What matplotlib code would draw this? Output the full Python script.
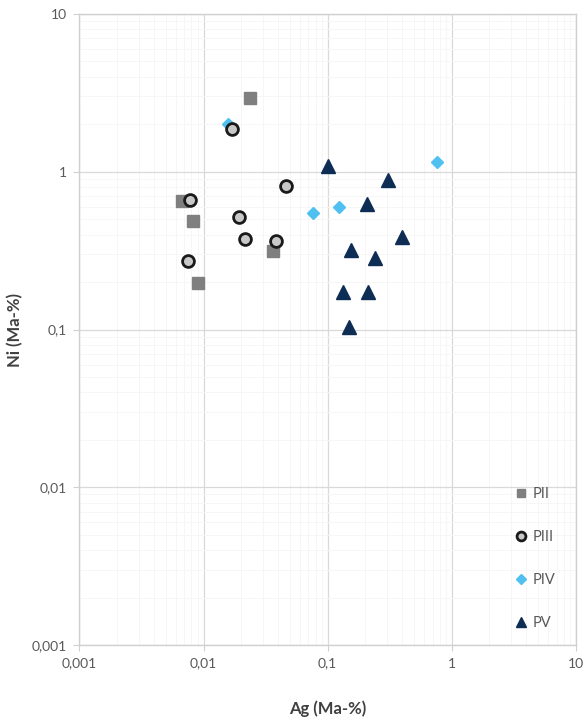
import matplotlib.pyplot as plt
from matplotlib.ticker import LogLocator, FixedLocator, NullFormatter

# Ag / Ni contents (Ma-%) per phase
pii_ag = [0.0235, 0.0067, 0.0082, 0.0365, 0.0091]
pii_ni = [2.95, 0.65, 0.49, 0.313, 0.198]

piii_ag = [0.0169, 0.0458, 0.0078, 0.0194, 0.0215, 0.0383, 0.0075]
piii_ni = [1.86, 0.815, 0.66, 0.514, 0.373, 0.366, 0.272]

piv_ag = [0.0157, 0.0757, 0.124, 0.767]
piv_ni = [2.02, 0.545, 0.594, 1.15]

pv_ag = [0.1005, 0.306, 0.206, 0.397, 0.153, 0.239, 0.134, 0.213, 0.150]
pv_ni = [1.09, 0.89, 0.625, 0.388, 0.321, 0.284, 0.174, 0.174, 0.1035]

ticks = [0.001, 0.01, 0.1, 1, 10]
tick_labels = ['0,001', '0,01', '0,1', '1', '10']

plt.rcParams['font.family'] = ['Lato', 'DejaVu Sans']

fig = plt.figure(figsize=(5.84, 7.22), dpi=100)
ax = fig.add_axes([0.136, 0.1066, 0.850, 0.874])

ax.plot(pii_ag, pii_ni, 's', color='#7f7f7f', ms=8.5, mec='#7f7f7f',
        label='PII', zorder=3)
ax.plot(piv_ag, piv_ni, 'D', color='#4fc0ef', ms=6.5, mec='#4fc0ef',
        label='PIV', zorder=4)
ax.plot(piii_ag, piii_ni, 'o', mfc='#c8c8c8', mec='#1a1a1a', mew=2.0, ms=8.5,
        label='PIII', zorder=5)
ax.plot(pv_ag, pv_ni, '^', color='#0e2d55', ms=9.5, mec='#0e2d55',
        label='PV', zorder=6)

ax.set_xscale('log')
ax.set_yscale('log')
ax.set_xlim(0.001, 10)
ax.set_ylim(0.001, 10)

ax.xaxis.set_major_locator(FixedLocator(ticks))
ax.yaxis.set_major_locator(FixedLocator(ticks))
ax.set_xticklabels(tick_labels)
ax.set_yticklabels(tick_labels)
for axis in (ax.xaxis, ax.yaxis):
    axis.set_minor_locator(LogLocator(base=10, subs=range(2, 10)))
    axis.set_minor_formatter(NullFormatter())

ax.tick_params(which='major', length=4, color='#d0d0d0', labelcolor='#595959',
               labelsize=10, pad=5)
ax.tick_params(which='minor', length=0)

ax.grid(True, which='major', color='#d9d9d9', linewidth=0.9)
ax.grid(True, which='minor', color='#f6f6f6', linewidth=0.7)
ax.set_axisbelow(True)

for s in ax.spines.values():
    s.set_color('#d0d0d0')
    s.set_linewidth(1.0)

ax.set_xlabel('Ag (Ma-%)', fontsize=12, fontweight='bold', color='#404040',
              labelpad=22)
ax.set_ylabel('Ni (Ma-%)', fontsize=12, fontweight='bold', color='#404040',
              labelpad=6)

handles, labels = ax.get_legend_handles_labels()
order = [labels.index(n) for n in ['PII', 'PIII', 'PIV', 'PV']]
leg = ax.legend([handles[i] for i in order], [labels[i] for i in order],
                loc='lower right', bbox_to_anchor=(0.988, 0.0),
                frameon=False, fontsize=10.5,
                labelspacing=2.0, handlelength=0.6, handletextpad=0.5,
                borderaxespad=0.6, markerscale=0.75)
for t in leg.get_texts():
    t.set_color('#595959')

fig.savefig('out.png', dpi=100, facecolor='white')
